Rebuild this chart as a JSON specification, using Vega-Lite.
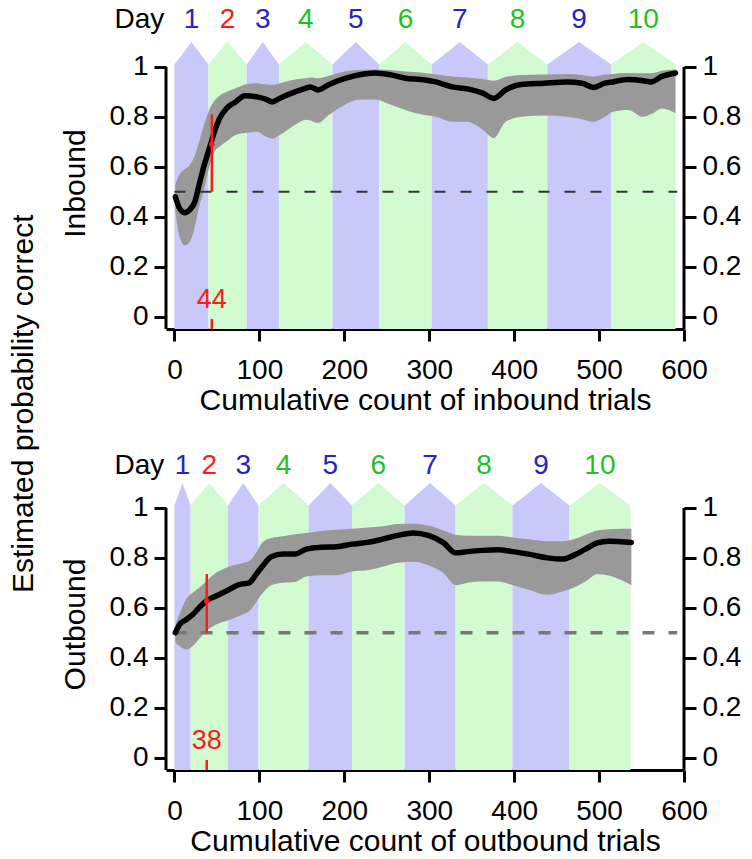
{
  "$schema": "https://vega.github.io/schema/vega-lite/v6.json",
  "padding": {"left": 9, "top": 5, "right": 5, "bottom": 5},
  "bounds": "flush",
  "spacing": 149,
  "title": {"text": "Estimated probability correct", "orient": "left", "anchor": "middle", "fontSize": 30, "fontWeight": "normal", "font": "Liberation Sans", "color": "black", "offset": 21, "dx": 27},
  "datasets": {
    "daysIn": [
      {"day": 1, "start": 0, "end": 40}, {"day": 2, "start": 40, "end": 85}, {"day": 3, "start": 85, "end": 123},
      {"day": 4, "start": 123, "end": 186}, {"day": 5, "start": 186, "end": 241}, {"day": 6, "start": 241, "end": 303},
      {"day": 7, "start": 303, "end": 369}, {"day": 8, "start": 369, "end": 439}, {"day": 9, "start": 439, "end": 514},
      {"day": 10, "start": 514, "end": 590}
    ],
    "daysOut": [
      {"day": 1, "start": 0, "end": 19}, {"day": 2, "start": 19, "end": 63}, {"day": 3, "start": 63, "end": 99},
      {"day": 4, "start": 99, "end": 158}, {"day": 5, "start": 158, "end": 209}, {"day": 6, "start": 209, "end": 271},
      {"day": 7, "start": 271, "end": 331}, {"day": 8, "start": 331, "end": 398}, {"day": 9, "start": 398, "end": 465},
      {"day": 10, "start": 465, "end": 537}
    ],
    "inbound": [
      {"trial": 1, "p": 0.48, "lo": 0.42, "hi": 0.53},
      {"trial": 6, "p": 0.433, "lo": 0.32, "hi": 0.57},
      {"trial": 12, "p": 0.416, "lo": 0.285, "hi": 0.59},
      {"trial": 18, "p": 0.428, "lo": 0.3, "hi": 0.607},
      {"trial": 24, "p": 0.46, "lo": 0.36, "hi": 0.645},
      {"trial": 29, "p": 0.527, "lo": 0.44, "hi": 0.7},
      {"trial": 35, "p": 0.607, "lo": 0.51, "hi": 0.77},
      {"trial": 41, "p": 0.673, "lo": 0.6, "hi": 0.83},
      {"trial": 47, "p": 0.74, "lo": 0.66, "hi": 0.865},
      {"trial": 53, "p": 0.793, "lo": 0.68, "hi": 0.885},
      {"trial": 61, "p": 0.833, "lo": 0.7, "hi": 0.9},
      {"trial": 72, "p": 0.86, "lo": 0.727, "hi": 0.915},
      {"trial": 83, "p": 0.885, "lo": 0.735, "hi": 0.93},
      {"trial": 97, "p": 0.88, "lo": 0.74, "hi": 0.935},
      {"trial": 108, "p": 0.87, "lo": 0.72, "hi": 0.93},
      {"trial": 115, "p": 0.86, "lo": 0.713, "hi": 0.928},
      {"trial": 124, "p": 0.875, "lo": 0.727, "hi": 0.935},
      {"trial": 142, "p": 0.9, "lo": 0.768, "hi": 0.95},
      {"trial": 155, "p": 0.915, "lo": 0.788, "hi": 0.955},
      {"trial": 160, "p": 0.92, "lo": 0.785, "hi": 0.958},
      {"trial": 169, "p": 0.908, "lo": 0.775, "hi": 0.955},
      {"trial": 182, "p": 0.93, "lo": 0.808, "hi": 0.965},
      {"trial": 200, "p": 0.953, "lo": 0.848, "hi": 0.982},
      {"trial": 218, "p": 0.969, "lo": 0.87, "hi": 0.988},
      {"trial": 236, "p": 0.976, "lo": 0.87, "hi": 0.99},
      {"trial": 254, "p": 0.969, "lo": 0.85, "hi": 0.988},
      {"trial": 272, "p": 0.955, "lo": 0.828, "hi": 0.982},
      {"trial": 290, "p": 0.95, "lo": 0.81, "hi": 0.978},
      {"trial": 308, "p": 0.94, "lo": 0.8, "hi": 0.97},
      {"trial": 327, "p": 0.92, "lo": 0.78, "hi": 0.962},
      {"trial": 345, "p": 0.912, "lo": 0.78, "hi": 0.958},
      {"trial": 363, "p": 0.895, "lo": 0.748, "hi": 0.952},
      {"trial": 376, "p": 0.874, "lo": 0.715, "hi": 0.945},
      {"trial": 390, "p": 0.908, "lo": 0.78, "hi": 0.96},
      {"trial": 408, "p": 0.93, "lo": 0.8, "hi": 0.968},
      {"trial": 435, "p": 0.935, "lo": 0.805, "hi": 0.97},
      {"trial": 462, "p": 0.94, "lo": 0.8, "hi": 0.972},
      {"trial": 480, "p": 0.935, "lo": 0.79, "hi": 0.968},
      {"trial": 493, "p": 0.918, "lo": 0.78, "hi": 0.962},
      {"trial": 507, "p": 0.935, "lo": 0.8, "hi": 0.97},
      {"trial": 516, "p": 0.94, "lo": 0.82, "hi": 0.972},
      {"trial": 534, "p": 0.95, "lo": 0.828, "hi": 0.976},
      {"trial": 552, "p": 0.945, "lo": 0.8, "hi": 0.975},
      {"trial": 561, "p": 0.94, "lo": 0.81, "hi": 0.975},
      {"trial": 574, "p": 0.962, "lo": 0.834, "hi": 0.985},
      {"trial": 590, "p": 0.976, "lo": 0.815, "hi": 0.99}
    ],
    "outbound": [
      {"trial": 1, "p": 0.5, "lo": 0.46, "hi": 0.53},
      {"trial": 6, "p": 0.533, "lo": 0.447, "hi": 0.575},
      {"trial": 14, "p": 0.553, "lo": 0.433, "hi": 0.635},
      {"trial": 21.5, "p": 0.573, "lo": 0.447, "hi": 0.66},
      {"trial": 29, "p": 0.6, "lo": 0.475, "hi": 0.68},
      {"trial": 37, "p": 0.627, "lo": 0.505, "hi": 0.705},
      {"trial": 49, "p": 0.647, "lo": 0.533, "hi": 0.74},
      {"trial": 61, "p": 0.667, "lo": 0.547, "hi": 0.76},
      {"trial": 76, "p": 0.693, "lo": 0.567, "hi": 0.775},
      {"trial": 88, "p": 0.7, "lo": 0.587, "hi": 0.787},
      {"trial": 96, "p": 0.733, "lo": 0.62, "hi": 0.82},
      {"trial": 103, "p": 0.764, "lo": 0.655, "hi": 0.86},
      {"trial": 114, "p": 0.804, "lo": 0.69, "hi": 0.88},
      {"trial": 128, "p": 0.815, "lo": 0.7, "hi": 0.887},
      {"trial": 142, "p": 0.815, "lo": 0.703, "hi": 0.895},
      {"trial": 155, "p": 0.835, "lo": 0.725, "hi": 0.9},
      {"trial": 173, "p": 0.843, "lo": 0.73, "hi": 0.908},
      {"trial": 191, "p": 0.845, "lo": 0.73, "hi": 0.913},
      {"trial": 209, "p": 0.855, "lo": 0.745, "hi": 0.917},
      {"trial": 227, "p": 0.862, "lo": 0.75, "hi": 0.922},
      {"trial": 245, "p": 0.875, "lo": 0.764, "hi": 0.927},
      {"trial": 263, "p": 0.89, "lo": 0.78, "hi": 0.936},
      {"trial": 281, "p": 0.9, "lo": 0.784, "hi": 0.937},
      {"trial": 299, "p": 0.89, "lo": 0.77, "hi": 0.93},
      {"trial": 317, "p": 0.86, "lo": 0.738, "hi": 0.91},
      {"trial": 331, "p": 0.82, "lo": 0.69, "hi": 0.893},
      {"trial": 345, "p": 0.825, "lo": 0.7, "hi": 0.889},
      {"trial": 363, "p": 0.83, "lo": 0.705, "hi": 0.889},
      {"trial": 380, "p": 0.833, "lo": 0.705, "hi": 0.889},
      {"trial": 399, "p": 0.825, "lo": 0.69, "hi": 0.882},
      {"trial": 417, "p": 0.815, "lo": 0.672, "hi": 0.875},
      {"trial": 439, "p": 0.8, "lo": 0.652, "hi": 0.867},
      {"trial": 457, "p": 0.795, "lo": 0.665, "hi": 0.867},
      {"trial": 470, "p": 0.81, "lo": 0.68, "hi": 0.875},
      {"trial": 484, "p": 0.835, "lo": 0.705, "hi": 0.893},
      {"trial": 498, "p": 0.86, "lo": 0.734, "hi": 0.91},
      {"trial": 511, "p": 0.867, "lo": 0.729, "hi": 0.915},
      {"trial": 525, "p": 0.865, "lo": 0.712, "hi": 0.917},
      {"trial": 538, "p": 0.862, "lo": 0.69, "hi": 0.917}
    ],
    "critIn": [{"trial": 44, "p": 0.69}],
    "critOut": [{"trial": 38, "p": 0.627}],
    "one": [{}]
  },
  "config": {
    "font": "Liberation Sans",
    "view": {"stroke": null},
    "axis": {
      "domainColor": "black", "domainWidth": 3, "tickColor": "black", "tickWidth": 3, "tickSize": 12,
      "labelFontSize": 28, "labelColor": "black", "labelFont": "Liberation Sans",
      "titleFontSize": 30, "titleFontWeight": "normal", "titleColor": "black", "titleFont": "Liberation Sans",
      "grid": false, "zindex": 1, "labelFlush": false, "labelOverlap": false, "labelBound": false
    },
    "axisY": {"domain": false, "labelPadding": 6, "titlePadding": 19},
    "axisX": {"labelPadding": 15, "titlePadding": 1},
    "text": {"font": "Liberation Sans"}
  },
  "vconcat": [
    {
      "width": 518,
      "height": 292,
      "resolve": {"axis": {"x": "independent", "y": "independent"}, "scale": {"color": "independent"}},
      "layer": [
        {
          "data": {"name": "daysIn"},
          "transform": [
            {"calculate": "(datum.start + datum.end) / 2", "as": "mid"},
            {"fold": ["start", "mid", "end"], "as": ["edge", "trial"]},
            {"calculate": "datum.edge === 'mid' ? 1.10 : 1.01", "as": "cap"},
            {"calculate": "datum.day % 2 === 1 ? 'odd' : 'even'", "as": "shade"}
          ],
          "mark": {"type": "area", "opacity": 1},
          "encoding": {
            "x": {"field": "trial", "type": "quantitative", "scale": {"domain": [-10, 600], "nice": false, "zero": false},
                  "axis": {"orient": "bottom", "values": [0, 100, 200, 300, 400, 500, 600], "title": "Cumulative count of inbound trials"}},
            "y": {"field": "cap", "type": "quantitative", "stack": null, "scale": {"domain": [-0.05, 1.12], "nice": false, "zero": false},
                  "axis": {"orient": "left", "values": [0, 0.2, 0.4, 0.6, 0.8, 1], "format": "~g", "title": "Inbound"}},
            "y2": {"datum": -0.05},
            "color": {"field": "shade", "type": "nominal", "scale": {"domain": ["odd", "even"], "range": ["#c8c8fb", "#d2fbd2"]}, "legend": null},
            "detail": {"field": "day", "type": "nominal"}
          }
        },
        {
          "data": {"name": "inbound"},
          "mark": {"type": "area", "color": "#999999", "interpolate": "monotone"},
          "encoding": {
            "x": {"field": "trial", "type": "quantitative", "axis": null},
            "y": {"field": "lo", "type": "quantitative", "axis": null},
            "y2": {"field": "hi"}
          }
        },
        {
          "data": {"name": "one"},
          "mark": {"type": "rule", "color": "#333333", "strokeWidth": 2, "strokeDash": [11, 15]},
          "encoding": {
            "x": {"datum": 0, "axis": null},
            "x2": {"datum": 592},
            "y": {"datum": 0.5, "axis": null}
          }
        },
        {
          "data": {"name": "inbound"},
          "mark": {"type": "line", "color": "black", "strokeWidth": 5.5, "interpolate": "monotone", "strokeCap": "round", "strokeJoin": "round"},
          "encoding": {
            "x": {"field": "trial", "type": "quantitative", "axis": null},
            "y": {"field": "p", "type": "quantitative",
                  "axis": {"orient": "right", "values": [0, 0.2, 0.4, 0.6, 0.8, 1], "format": "~g", "title": null}}
          }
        },
        {
          "data": {"name": "one"},
          "mark": {"type": "rule", "color": "black", "strokeWidth": 3},
          "encoding": {"x": {"datum": -10, "axis": null}, "y": {"datum": -0.05, "axis": null}, "y2": {"datum": 1}}
        },
        {
          "data": {"name": "one"},
          "mark": {"type": "rule", "color": "black", "strokeWidth": 3},
          "encoding": {"x": {"datum": 600, "axis": null}, "y": {"datum": -0.05, "axis": null}, "y2": {"datum": 1}}
        },
        {
          "data": {"name": "critIn"},
          "mark": {"type": "rule", "color": "#ff1a1a", "strokeWidth": 2.5},
          "encoding": {"x": {"field": "trial", "type": "quantitative", "axis": null}, "y": {"datum": 0.5, "axis": null}, "y2": {"datum": 0.81}}
        },
        {
          "data": {"name": "critIn"},
          "mark": {"type": "rule", "color": "#ff1a1a", "strokeWidth": 2.5},
          "encoding": {"x": {"field": "trial", "type": "quantitative", "axis": null}, "y": {"datum": -0.05, "axis": null}, "y2": {"datum": -0.01}}
        },
        {
          "data": {"name": "critIn"},
          "mark": {"type": "point", "filled": true, "color": "#ff1a1a", "size": 30, "opacity": 1},
          "encoding": {"x": {"field": "trial", "type": "quantitative", "axis": null}, "y": {"field": "p", "type": "quantitative", "axis": null}}
        },
        {
          "data": {"name": "critIn"},
          "mark": {"type": "text", "color": "#ff1a1a", "fontSize": 27, "baseline": "middle"},
          "encoding": {"x": {"field": "trial", "type": "quantitative", "axis": null}, "y": {"datum": 0.065, "axis": null}, "text": {"field": "trial"}}
        },
        {
          "data": {"name": "daysIn"},
          "transform": [
            {"calculate": "(datum.start + datum.end) / 2", "as": "mid"},
            {"calculate": "datum.start <= 44 && 44 < datum.end ? 'crit' : (datum.day % 2 === 1 ? 'odd' : 'even')", "as": "tone"}
          ],
          "mark": {"type": "text", "fontSize": 28, "baseline": "middle"},
          "encoding": {
            "x": {"field": "mid", "type": "quantitative", "axis": null},
            "y": {"datum": 1.19, "axis": null},
            "text": {"field": "day"},
            "color": {"field": "tone", "type": "nominal", "scale": {"domain": ["odd", "even", "crit"], "range": ["#2424c8", "#1fc21f", "#ff1a1a"]}, "legend": null}
          }
        },
        {
          "data": {"name": "one"},
          "mark": {"type": "text", "text": "Day", "fontSize": 28, "baseline": "middle", "align": "right", "color": "black"},
          "encoding": {"x": {"datum": -12, "axis": null}, "y": {"datum": 1.19, "axis": null}}
        }
      ]
    },
    {
      "width": 518,
      "height": 292,
      "resolve": {"axis": {"x": "independent", "y": "independent"}, "scale": {"color": "independent"}},
      "layer": [
        {
          "data": {"name": "daysOut"},
          "transform": [
            {"calculate": "(datum.start + datum.end) / 2", "as": "mid"},
            {"fold": ["start", "mid", "end"], "as": ["edge", "trial"]},
            {"calculate": "datum.edge === 'mid' ? 1.10 : 1.01", "as": "cap"},
            {"calculate": "datum.day % 2 === 1 ? 'odd' : 'even'", "as": "shade"}
          ],
          "mark": {"type": "area", "opacity": 1},
          "encoding": {
            "x": {"field": "trial", "type": "quantitative", "scale": {"domain": [-10, 600], "nice": false, "zero": false},
                  "axis": {"orient": "bottom", "values": [0, 100, 200, 300, 400, 500, 600], "title": "Cumulative count of outbound trials"}},
            "y": {"field": "cap", "type": "quantitative", "stack": null, "scale": {"domain": [-0.05, 1.12], "nice": false, "zero": false},
                  "axis": {"orient": "left", "values": [0, 0.2, 0.4, 0.6, 0.8, 1], "format": "~g", "title": "Outbound"}},
            "y2": {"datum": -0.05},
            "color": {"field": "shade", "type": "nominal", "scale": {"domain": ["odd", "even"], "range": ["#c8c8fb", "#d2fbd2"]}, "legend": null},
            "detail": {"field": "day", "type": "nominal"}
          }
        },
        {
          "data": {"name": "outbound"},
          "mark": {"type": "area", "color": "#999999", "interpolate": "monotone"},
          "encoding": {
            "x": {"field": "trial", "type": "quantitative", "axis": null},
            "y": {"field": "lo", "type": "quantitative", "axis": null},
            "y2": {"field": "hi"}
          }
        },
        {
          "data": {"name": "one"},
          "mark": {"type": "rule", "color": "#777777", "strokeWidth": 3.5, "strokeDash": [12, 14]},
          "encoding": {
            "x": {"datum": 0, "axis": null},
            "x2": {"datum": 592},
            "y": {"datum": 0.5, "axis": null}
          }
        },
        {
          "data": {"name": "outbound"},
          "mark": {"type": "line", "color": "black", "strokeWidth": 5.5, "interpolate": "monotone", "strokeCap": "round", "strokeJoin": "round"},
          "encoding": {
            "x": {"field": "trial", "type": "quantitative", "axis": null},
            "y": {"field": "p", "type": "quantitative",
                  "axis": {"orient": "right", "values": [0, 0.2, 0.4, 0.6, 0.8, 1], "format": "~g", "title": null}}
          }
        },
        {
          "data": {"name": "one"},
          "mark": {"type": "rule", "color": "black", "strokeWidth": 3},
          "encoding": {"x": {"datum": -10, "axis": null}, "y": {"datum": -0.05, "axis": null}, "y2": {"datum": 1}}
        },
        {
          "data": {"name": "one"},
          "mark": {"type": "rule", "color": "black", "strokeWidth": 3},
          "encoding": {"x": {"datum": 600, "axis": null}, "y": {"datum": -0.05, "axis": null}, "y2": {"datum": 1}}
        },
        {
          "data": {"name": "critOut"},
          "mark": {"type": "rule", "color": "#ff1a1a", "strokeWidth": 2.5},
          "encoding": {"x": {"field": "trial", "type": "quantitative", "axis": null}, "y": {"datum": 0.5, "axis": null}, "y2": {"datum": 0.735}}
        },
        {
          "data": {"name": "critOut"},
          "mark": {"type": "rule", "color": "#ff1a1a", "strokeWidth": 2.5},
          "encoding": {"x": {"field": "trial", "type": "quantitative", "axis": null}, "y": {"datum": -0.05, "axis": null}, "y2": {"datum": -0.01}}
        },
        {
          "data": {"name": "critOut"},
          "mark": {"type": "point", "filled": true, "color": "#ff1a1a", "size": 30, "opacity": 1},
          "encoding": {"x": {"field": "trial", "type": "quantitative", "axis": null}, "y": {"field": "p", "type": "quantitative", "axis": null}}
        },
        {
          "data": {"name": "critOut"},
          "mark": {"type": "text", "color": "#ff1a1a", "fontSize": 27, "baseline": "middle"},
          "encoding": {"x": {"field": "trial", "type": "quantitative", "axis": null}, "y": {"datum": 0.065, "axis": null}, "text": {"field": "trial"}}
        },
        {
          "data": {"name": "daysOut"},
          "transform": [
            {"calculate": "(datum.start + datum.end) / 2", "as": "mid"},
            {"calculate": "datum.start <= 38 && 38 < datum.end ? 'crit' : (datum.day % 2 === 1 ? 'odd' : 'even')", "as": "tone"}
          ],
          "mark": {"type": "text", "fontSize": 28, "baseline": "middle"},
          "encoding": {
            "x": {"field": "mid", "type": "quantitative", "axis": null},
            "y": {"datum": 1.17, "axis": null},
            "text": {"field": "day"},
            "color": {"field": "tone", "type": "nominal", "scale": {"domain": ["odd", "even", "crit"], "range": ["#2424c8", "#1fc21f", "#ff1a1a"]}, "legend": null}
          }
        },
        {
          "data": {"name": "one"},
          "mark": {"type": "text", "text": "Day", "fontSize": 28, "baseline": "middle", "align": "right", "color": "black"},
          "encoding": {"x": {"datum": -12, "axis": null}, "y": {"datum": 1.17, "axis": null}}
        }
      ]
    }
  ]
}
